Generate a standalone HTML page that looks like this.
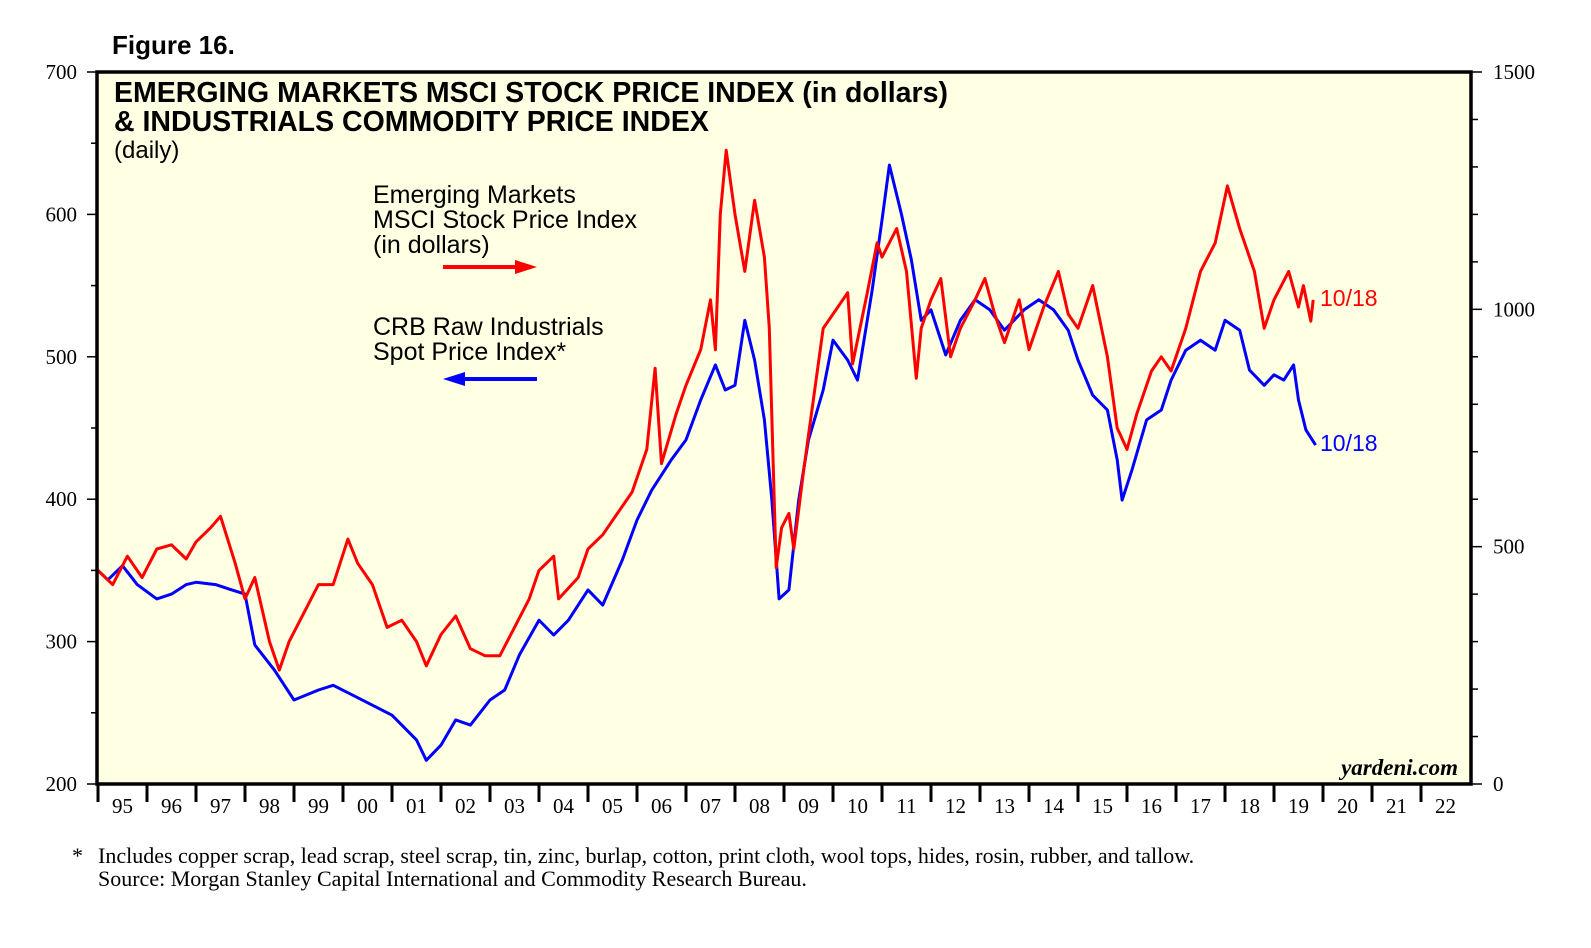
<!DOCTYPE html>
<html><head><meta charset="utf-8"><style>
body{margin:0;background:#fff;}
svg text{font-family:"Liberation Sans",sans-serif;}
.serif{font-family:"Liberation Serif",serif;}
</style></head><body>
<svg id="chart" width="1591" height="943" viewBox="0 0 1591 943">
<text x="112" y="54" font-size="26" font-weight="bold">Figure 16.</text>
<rect x="97" y="72" width="1374" height="712" fill="#FFFFE3"/>
<g id="axes"></g>
<g id="series"></g>
<rect x="97" y="72" width="1374" height="712" fill="none" stroke="#000" stroke-width="3.5"/>
<text x="114" y="102" font-size="28.5" font-weight="bold">EMERGING MARKETS MSCI STOCK PRICE INDEX (in dollars)</text>
<text x="114" y="131" font-size="28.5" font-weight="bold">&amp; INDUSTRIALS COMMODITY PRICE INDEX</text>
<text x="114" y="158" font-size="24">(daily)</text>
<g>
<text x="373" y="203" font-size="25">Emerging Markets</text>
<text x="373" y="228" font-size="25">MSCI Stock Price Index</text>
<text x="373" y="253" font-size="25">(in dollars)</text>
<line x1="443" y1="267" x2="520" y2="267" stroke="#f00" stroke-width="4"/>
<polygon points="537,267 515,260 515,274" fill="#f00"/>
</g>
<g>
<text x="373" y="335" font-size="25">CRB Raw Industrials</text>
<text x="373" y="360" font-size="25">Spot Price Index*</text>
<line x1="460" y1="379" x2="537" y2="379" stroke="#00f" stroke-width="4"/>
<polygon points="443,379 465,372 465,386" fill="#00f"/>
</g>
<text x="1320" y="306" font-size="23" fill="#f00">10/18</text>
<text x="1320" y="451" font-size="23" fill="#00f">10/18</text>
<text x="1458" y="775" font-size="23" font-weight="bold" font-style="italic" text-anchor="end" class="serif">yardeni.com</text>
<text x="72" y="863" font-size="22" class="serif">*</text>
<text x="98" y="863" font-size="22" class="serif">Includes copper scrap, lead scrap, steel scrap, tin, zinc, burlap, cotton, print cloth, wool tops, hides, rosin, rubber, and tallow.</text>
<text x="98" y="886" font-size="22" class="serif">Source: Morgan Stanley Capital International and Commodity Research Bureau.</text>
</svg>
<script>
const leftTicks=[200,300,400,500,600,700];
const rightTicks=[0,500,1000,1500];
const yearLabels=["95","96","97","98","99","00","01","02","03","04","05","06","07","08","09","10","11","12","13","14","15","16","17","18","19","20","21","22"];
const msciDates=[1995.0,1995.3,1995.6,1995.9,1996.2,1996.5,1996.8,1997.0,1997.3,1997.5,1997.8,1998.0,1998.2,1998.5,1998.7,1998.9,1999.2,1999.5,1999.8,2000.1,2000.3,2000.6,2000.9,2001.2,2001.5,2001.7,2002.0,2002.3,2002.6,2002.9,2003.2,2003.5,2003.8,2004.0,2004.3,2004.4,2004.8,2005.0,2005.3,2005.6,2005.9,2006.2,2006.37,2006.5,2006.8,2007.0,2007.3,2007.5,2007.6,2007.7,2007.82,2008.0,2008.2,2008.4,2008.6,2008.7,2008.8,2008.84,2008.95,2009.1,2009.2,2009.4,2009.6,2009.8,2010.0,2010.3,2010.4,2010.7,2010.9,2011.0,2011.3,2011.5,2011.7,2011.8,2012.0,2012.2,2012.4,2012.6,2012.9,2013.1,2013.3,2013.5,2013.8,2014.0,2014.3,2014.6,2014.8,2015.0,2015.3,2015.6,2015.8,2016.0,2016.2,2016.5,2016.7,2016.9,2017.2,2017.5,2017.8,2018.05,2018.3,2018.6,2018.8,2019.0,2019.3,2019.5,2019.6,2019.75,2019.8];
const msciValues=[350,340,360,345,365,368,358,370,380,388,355,330,345,300,280,300,320,340,340,372,355,340,310,315,300,283,305,318,295,290,290,310,330,350,360,330,345,365,375,390,405,435,492,425,460,480,505,540,505,600,645,600,560,610,570,520,400,352,380,390,365,420,470,520,530,545,495,545,580,570,590,560,485,520,540,555,500,520,540,555,530,510,540,505,535,560,530,520,550,500,450,435,460,490,500,490,520,560,580,620,590,560,520,540,560,535,550,525,540];
const crbDates=[1995.0,1995.2,1995.5,1995.8,1996.2,1996.5,1996.8,1997.0,1997.4,1997.7,1998.0,1998.2,1998.6,1999.0,1999.5,1999.8,2000.2,2000.6,2001.0,2001.5,2001.7,2002.0,2002.3,2002.6,2003.0,2003.3,2003.6,2004.0,2004.3,2004.6,2005.0,2005.3,2005.7,2006.0,2006.3,2006.7,2007.0,2007.3,2007.6,2007.8,2008.0,2008.2,2008.4,2008.6,2008.75,2008.9,2009.1,2009.3,2009.5,2009.8,2010.0,2010.3,2010.5,2010.8,2011.0,2011.15,2011.4,2011.6,2011.8,2012.0,2012.3,2012.6,2012.9,2013.2,2013.5,2013.9,2014.2,2014.5,2014.8,2015.0,2015.3,2015.6,2015.8,2015.9,2016.1,2016.4,2016.7,2016.9,2017.2,2017.5,2017.8,2018.0,2018.3,2018.5,2018.8,2019.0,2019.2,2019.4,2019.5,2019.65,2019.85];
const crbValues=[450,430,460,420,390,400,420,425,420,410,400,293,240,177,198,208,187,166,145,93,50,82,135,124,177,198,272,345,314,345,409,377,472,556,619,683,725,809,883,830,840,977,893,767,600,390,409,598,725,830,935,893,851,1041,1188,1304,1199,1104,977,999,904,977,1020,999,956,999,1020,999,956,893,819,788,683,598,661,767,788,851,914,935,914,977,956,872,840,862,851,883,809,746,714];

const NS='http://www.w3.org/2000/svg';
const X0=98, YW=49, T=72, B=784;
const xS=d=>X0+(d-1995)*YW;
const yL=v=>B-(v-200)*(B-T)/500;
const yR=v=>B-v*(B-T)/1500;
function mk(tag,attrs,parent){const e=document.createElementNS(NS,tag);for(const k in attrs)e.setAttribute(k,attrs[k]);parent.appendChild(e);return e;}
const axes=document.getElementById('axes');
for(let v=200;v<=700;v+=50){
  const l=mk('line',{x1:v%100?91:87,x2:97,y1:yL(v),y2:yL(v),stroke:'#000','stroke-width':1.5},axes);
  
  
}
leftTicks.forEach(v=>{
  const t=mk('text',{x:77,y:yL(v)+7,'text-anchor':'end','font-size':21,class:'serif'},axes);
  t.textContent=v;
  
  
});
for(let v=0;v<=1500;v+=100){
  const l=mk('line',{x1:1471,x2:v%500?1478:1482,y1:yR(v),y2:yR(v),stroke:'#000','stroke-width':1.5},axes);
  
  
}
rightTicks.forEach(v=>{
  const t=mk('text',{x:1493,y:yR(v)+7,'font-size':21,class:'serif'},axes);
  t.textContent=v;
  
  
});
yearLabels.forEach((lab,i)=>{
  const l=mk('line',{x1:xS(1995+i),x2:xS(1995+i),y1:784,y2:802,stroke:'#000','stroke-width':3},axes);
  
  
  const t=mk('text',{x:xS(1995.5+i),y:813,'text-anchor':'middle','font-size':21,class:'serif'},axes);
  t.textContent=lab;
  
  
});
const ser=document.getElementById('series');
const p1=mk('polyline',{points:crbDates.map((d,i)=>xS(d).toFixed(1)+','+yR(crbValues[i]).toFixed(1)).join(' '),fill:'none',stroke:'#0000ff','stroke-width':3,'stroke-linejoin':'round'},ser);


const p2=mk('polyline',{points:msciDates.map((d,i)=>xS(d).toFixed(1)+','+yL(msciValues[i]).toFixed(1)).join(' '),fill:'none',stroke:'#ff0000','stroke-width':3,'stroke-linejoin':'round'},ser);


</script>
</body></html>
